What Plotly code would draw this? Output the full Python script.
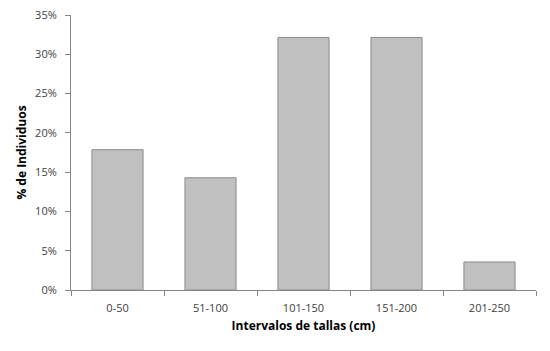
import plotly.graph_objects as go

categories = ["0-50", "51-100", "101-150", "151-200", "201-250"]
values = [5/28, 4/28, 9/28, 9/28, 1/28]

# The page body has an 8px default margin, so the figure is offset by 8px.
fig = go.Figure()
fig.add_trace(go.Bar(
    x=categories, y=values,
    marker=dict(color="#C0C0C0", line=dict(color="#8C8C8C", width=1)),
))
fig.update_layout(
    width=542, height=343,
    margin=dict(l=63, r=14, t=7, b=61),
    paper_bgcolor="white", plot_bgcolor="white",
    bargap=0.45, showlegend=False,
    font=dict(family="Open Sans, Liberation Sans, sans-serif", size=11, color="#404040"),
)
fig.update_xaxes(
    type="category", showline=True, linecolor="#868686", linewidth=1,
    ticks="outside", tickson="boundaries", ticklen=5, tickcolor="#868686",
    showgrid=False, automargin=False, ticklabelstandoff=8,
    ticklabeloverflow="allow",
    title=dict(text="<b>Intervalos de tallas (cm)</b>", font=dict(size=12, color="#000"), standoff=7),
    tickfont=dict(size=11, color="#404040"),
)
fig.update_yaxes(
    range=[0, 0.35], dtick=0.05, tickformat=".0%",
    showline=True, linecolor="#868686", linewidth=1,
    ticks="outside", ticklen=5, tickcolor="#868686",
    showgrid=False, zeroline=False, automargin=False, ticklabelstandoff=6,
    ticklabeloverflow="allow",
    title=dict(text="<b>% de Individuos</b>", font=dict(size=12, color="#000"), standoff=5),
    tickfont=dict(size=11, color="#404040"),
)
fig.write_html("out.html")
